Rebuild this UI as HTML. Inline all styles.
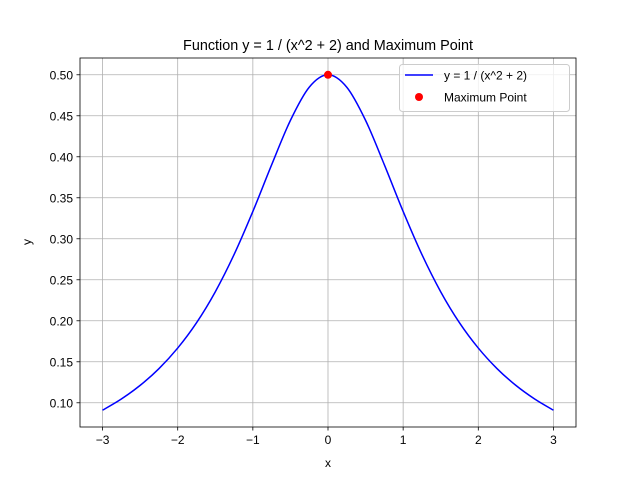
<!DOCTYPE html>
<html><head><meta charset="utf-8"><style>
body{margin:0;background:#fff}
svg{display:block;font-family:"Liberation Sans","DejaVu Sans",sans-serif}
</style></head><body>
<svg id="chart" width="640" height="480" viewBox="0 0 640 480">
<rect width="640" height="480" fill="#fff"/>
<g id="grid"></g>
<g id="ticks"></g>
<path id="curve" fill="none" stroke="#0000ff" stroke-width="1.5"/>
<circle id="maxpt" r="4" fill="#ff0000"/>
<rect x="80" y="58" width="496" height="369" fill="none" stroke="#000" stroke-width="0.8"/>
<text x="328" y="50" font-size="14.4" text-anchor="middle">Function y = 1 / (x^2 + 2) and Maximum Point</text>
<text x="328" y="467" font-size="12" text-anchor="middle">x</text>
<text x="31" y="242" font-size="12" text-anchor="middle" transform="rotate(-90 31 242)">y</text>
<g>
<rect x="399.5" y="64.5" width="170" height="47" rx="3" fill="#fff" fill-opacity="0.8" stroke="#ccc"/>
<line x1="405" y1="75" x2="433" y2="75" stroke="#0000ff" stroke-width="1.5"/>
<text x="444" y="79.5" font-size="12">y = 1 / (x^2 + 2)</text>
<circle cx="419" cy="97" r="4" fill="#ff0000"/>
<text x="444" y="101.5" font-size="12">Maximum Point</text>
</g>
</svg>
<script>
const xValues=[-3,-2.75,-2.5,-2.25,-2,-1.75,-1.5,-1.25,-1,-0.75,-0.5,-0.25,0,0.25,0.5,0.75,1,1.25,1.5,1.75,2,2.25,2.5,2.75,3];
const yValues=[0.0909,0.1046,0.1212,0.1416,0.1667,0.1975,0.2353,0.2807,0.3333,0.3902,0.4444,0.4848,0.5,0.4848,0.4444,0.3902,0.3333,0.2807,0.2353,0.1975,0.1667,0.1416,0.1212,0.1046,0.0909];
const maxPoint=[0,0.5];
const xTicks=[-3,-2,-1,0,1,2,3];
const yTicks=[0.10,0.15,0.20,0.25,0.30,0.35,0.40,0.45,0.50];
const L=80,R=576,T=58,B=427;
const xMin=-3.3,xMax=3.3,yMin=0.07046,yMax=0.52045;
const sx=v=>L+(v-xMin)/(xMax-xMin)*(R-L);
const sy=v=>B-(v-yMin)/(yMax-yMin)*(B-T);
const NS="http://www.w3.org/2000/svg";
const grid=document.getElementById('grid'),ticks=document.getElementById('ticks');
function mk(tag,attrs,parent){const e=document.createElementNS(NS,tag);for(const k in attrs)e.setAttribute(k,attrs[k]);parent.appendChild(e);return e;}
xTicks.forEach(t=>{const x=sx(t);
const g=mk('line',{x1:x,x2:x,y1:T,y2:B,stroke:'#b0b0b0','stroke-width':0.8},grid);


const tk=mk('line',{x1:x,x2:x,y1:B,y2:B+3.5,stroke:'#000','stroke-width':0.8},ticks);


const lb=mk('text',{x:x,y:B+17,'font-size':12,'text-anchor':'middle'},ticks);
lb.textContent=(t<0?'\u2212'+(-t):t);

});
yTicks.forEach(t=>{const y=sy(t);
const g=mk('line',{x1:L,x2:R,y1:y,y2:y,stroke:'#b0b0b0','stroke-width':0.8},grid);


const tk=mk('line',{x1:L-3.5,x2:L,y1:y,y2:y,stroke:'#000','stroke-width':0.8},ticks);


const lb=mk('text',{x:L-7,y:y+4.5,'font-size':12,'text-anchor':'end'},ticks);
lb.textContent=t.toFixed(2);

});
const P=xValues.map((x,i)=>[sx(x),sy(yValues[i])]);
let d='M'+P[0][0]+','+P[0][1];
for(let i=0;i<P.length-1;i++){const p0=P[Math.max(0,i-1)],p1=P[i],p2=P[i+1],p3=P[Math.min(P.length-1,i+2)];
d+=' C'+(p1[0]+(p2[0]-p0[0])/6)+','+(p1[1]+(p2[1]-p0[1])/6)+' '+(p2[0]-(p3[0]-p1[0])/6)+','+(p2[1]-(p3[1]-p1[1])/6)+' '+p2[0]+','+p2[1];}
document.getElementById('curve').setAttribute('d',d);
const m=document.getElementById('maxpt');m.setAttribute('cx',sx(maxPoint[0]));m.setAttribute('cy',sy(maxPoint[1]));
</script>
</body></html>
